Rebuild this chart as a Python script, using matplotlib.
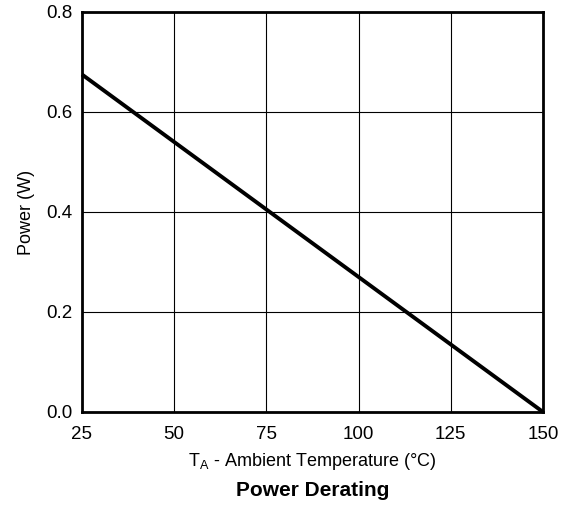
import numpy as np
import matplotlib.pyplot as plt

plt.rcParams['font.family'] = ['Liberation Sans', 'DejaVu Sans']

# derating line endpoints
temp_c = [25, 150]
power_w = [0.675, 0.0]

x_ticks = [25, 50, 75, 100, 125, 150]
y_ticks = [0.0, 0.2, 0.4, 0.6, 0.8]

fig = plt.figure(figsize=(5.67, 5.08), dpi=100)
ax = fig.add_axes([0.1446, 0.189, 0.8131, 0.7874])

ax.plot(temp_c, power_w, color='black', lw=2.8, solid_capstyle='butt', clip_on=False, zorder=3)

ax.set_xlim(25, 150)
ax.set_ylim(0, 0.8)
ax.set_xticks(x_ticks)
ax.set_yticks(y_ticks)
ax.set_yticklabels([f'{v:.1f}' for v in y_ticks])
ax.tick_params(length=0, labelsize=13.5, pad=7)
ax.tick_params(axis='x', pad=10)
ax.grid(True, color='black', lw=0.8)
for s in ax.spines.values():
    s.set_linewidth(2)
    s.set_zorder(4)

ax.set_xlabel('T$_\\mathregular{A}$ - Ambient Temperature (°C)', fontsize=13, labelpad=6)
ax.set_ylabel('Power (W)', fontsize=13, labelpad=8)
fig.text(0.5 * (0.1446 + 0.9577), 1 - 490 / 508, 'Power Derating',
         ha='center', va='center', fontsize=15, fontweight='bold')

fig.savefig('out.png', dpi=100)
